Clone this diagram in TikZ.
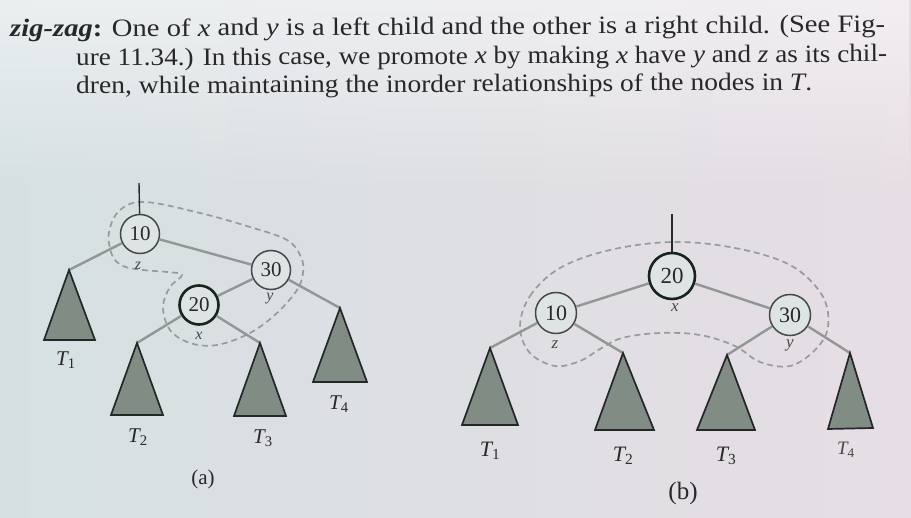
\documentclass[tikz,border=0pt]{standalone}
\usepackage{fontspec}
\setmainfont{Liberation Serif}
\usetikzlibrary{calc,fadings}
\definecolor{pageL}{RGB}{214,224,226}
\definecolor{pageR}{RGB}{230,222,228}
\definecolor{edgeg}{RGB}{145,150,150}
\definecolor{dashg}{RGB}{150,156,156}
\definecolor{trifill}{RGB}{128,140,132}
\definecolor{trid}{RGB}{35,40,38}
\definecolor{nodeg}{RGB}{70,72,72}
\definecolor{nodek}{RGB}{25,35,30}
\definecolor{ink}{RGB}{40,40,42}
\definecolor{nfill}{RGB}{222,228,228}
\begin{document}
\begin{tikzpicture}[x=1pt,y=-1pt,
  tnode/.style={circle,draw=nodeg,line width=1.5pt,fill=nfill,inner sep=0pt,text=ink},
  xnode/.style={circle,draw=nodek,line width=2.6pt,fill=nfill,inner sep=0pt,text=ink},
  edg/.style={draw=edgeg,line width=2.4pt},
  tri/.style={fill=trifill,draw=trid,line width=1.7pt,line join=miter},
  blob/.style={draw=dashg,line width=1.7pt,dash pattern=on 6pt off 4pt},
  lbl/.style={text=ink,inner sep=0pt},
  txt/.style={text=ink,inner sep=0pt,anchor=base west,rotate=0.3,font=\fontsize{25}{25}\selectfont}]
\useasboundingbox (0,0) rectangle (911,518);
\shade[left color=pageL,right color=pageR] (0,0) rectangle (911,518);
\fill[white,opacity=0.5,path fading=south] (0,0) rectangle (911,190);
% text
\node[txt] (l1) at (10,37) {\resizebox{875pt}{\height}{\textbf{\textit{zig-zag}:} One of \textit{x} and \textit{y} is a left child and the other is a right child. (See Fig-}};
\node[txt] (l2) at (76,66) {\resizebox{811pt}{\height}{ure 11.34.) In this case, we promote \textit{x} by making \textit{x} have \textit{y} and \textit{z} as its chil-}};
\node[txt] (l3) at (76,94) {\resizebox{736pt}{\height}{dren, while maintaining the inorder relationships of the nodes in \textit{T}.}};
% ---------- tree (a)
\coordinate (topa) at (139,183);
\coordinate (t1a) at (69,270);
\coordinate (t2a) at (137,343);
\coordinate (t3a) at (260,343);
\coordinate (t4a) at (340,308);
\draw[blob] plot[smooth cycle,tension=0.6] coordinates {(109,232) (120,210) (145,202) (200,213) (250,227) (287,240) (301,257) (303,273) (297,290) (277,313) (250,333) (217,345) (190,343) (170,330) (163,307) (170,287) (182,275) (167,272) (143,270) (123,266) (112,255)};
\node[tnode,minimum size=39pt,font=\fontsize{21}{21}\selectfont] (n10a) at (140,234) {10};
\node[tnode,minimum size=39pt,font=\fontsize{21}{21}\selectfont] (n30a) at (271,270) {30};
\node[xnode,minimum size=39pt,font=\fontsize{21}{21}\selectfont] (n20a) at (199,305) {20};
\draw[draw=ink,line width=1.4pt] (topa) -- (n10a);
\path[edg] (n10a) -- (t1a);
\path[edg] (n10a) -- (n30a);
\path[edg] (n30a) -- (n20a);
\path[edg] (n30a) -- (t4a);
\path[edg] (n20a) -- (t2a);
\path[edg] (n20a) -- (t3a);
\draw[tri] (t1a) -- ++(26,70) -- ++(-51,0) -- cycle;
\draw[tri] (t2a) -- ++(26,72) -- ++(-52,0) -- cycle;
\draw[tri] (t3a) -- ++(26,73) -- ++(-52,0) -- cycle;
\draw[tri] (t4a) -- ++(27,74) -- ++(-54,0) -- cycle;
\node[lbl,font=\fontsize{21}{21}\selectfont\itshape] (L1a) at (66,360) {T\textsubscript{\upshape 1}};
\node[lbl,font=\fontsize{21}{21}\selectfont\itshape] (L2a) at (138,437) {T\textsubscript{\upshape 2}};
\node[lbl,font=\fontsize{21}{21}\selectfont\itshape] (L3a) at (263,438) {T\textsubscript{\upshape 3}};
\node[lbl,font=\fontsize{21}{21}\selectfont\itshape] (L4a) at (339,404) {T\textsubscript{\upshape 4}};
\node[lbl,font=\fontsize{16}{16}\selectfont\itshape,text=nodeg] (za) at (138,266) {z};
\node[lbl,font=\fontsize{16}{16}\selectfont\itshape,text=nodeg] (ya) at (270,299) {y};
\node[lbl,font=\fontsize{16}{16}\selectfont\itshape,text=nodeg] (xa) at (199,336) {x};
\node[lbl,font=\fontsize{21}{21}\selectfont] (capa) at (203,479) {(a)};
% ---------- tree (b)
\coordinate (topb) at (672,214);
\coordinate (t1b) at (490,348);
\coordinate (t2b) at (623,353);
\coordinate (t3b) at (727,355);
\coordinate (t4b) at (850,353);
\draw[blob] plot[smooth cycle,tension=0.6] coordinates {(520,327) (530,296) (560,268) (610,250) (673,242) (735,248) (790,265) (822,295) (828,327) (815,350) (790,366) (760,362) (735,346) (700,335) (660,333) (622,338) (600,349) (580,361) (555,366) (530,353)};
\node[xnode,minimum size=46pt,font=\fontsize{23}{23}\selectfont] (n20b) at (672,276) {20};
\node[tnode,minimum size=41pt,font=\fontsize{22}{22}\selectfont] (n10b) at (556,313) {10};
\node[tnode,minimum size=41pt,font=\fontsize{22}{22}\selectfont] (n30b) at (790,315) {30};
\draw[draw=ink,line width=1.4pt] (topb) -- (n20b);
\path[edg] (n20b) -- (n10b);
\path[edg] (n20b) -- (n30b);
\path[edg] (n10b) -- (t1b);
\path[edg] (n10b) -- (t2b);
\path[edg] (n30b) -- (t3b);
\path[edg] (n30b) -- (t4b);
\draw[tri] (t1b) -- ++(28,77) -- ++(-56,0) -- cycle;
\draw[tri] (t2b) -- ++(31,77) -- ++(-59,0) -- cycle;
\draw[tri] (t3b) -- ++(28,75) -- ++(-58,0) -- cycle;
\draw[tri] (t4b) -- ++(23,75) -- ++(-45,1) -- cycle;
\node[lbl,font=\fontsize{22}{22}\selectfont\itshape] (L1b) at (490,451) {T\textsubscript{\upshape 1}};
\node[lbl,font=\fontsize{22}{22}\selectfont\itshape] (L2b) at (623,456) {T\textsubscript{\upshape 2}};
\node[lbl,font=\fontsize{22}{22}\selectfont\itshape] (L3b) at (726,456) {T\textsubscript{\upshape 3}};
\node[lbl,font=\fontsize{19}{19}\selectfont\itshape,text=nodeg] (L4b) at (846,450) {T\textsubscript{\upshape 4}};
\node[lbl,font=\fontsize{17}{17}\selectfont\itshape,text=nodeg] (zb) at (555,345) {z};
\node[lbl,font=\fontsize{17}{17}\selectfont\itshape,text=nodeg] (xb) at (675,308) {x};
\node[lbl,font=\fontsize{17}{17}\selectfont\itshape,text=nodeg] (yb) at (790,345) {y};
\node[lbl,font=\fontsize{25}{25}\selectfont] (capb) at (683,493) {(b)};
\end{tikzpicture}
\end{document}
